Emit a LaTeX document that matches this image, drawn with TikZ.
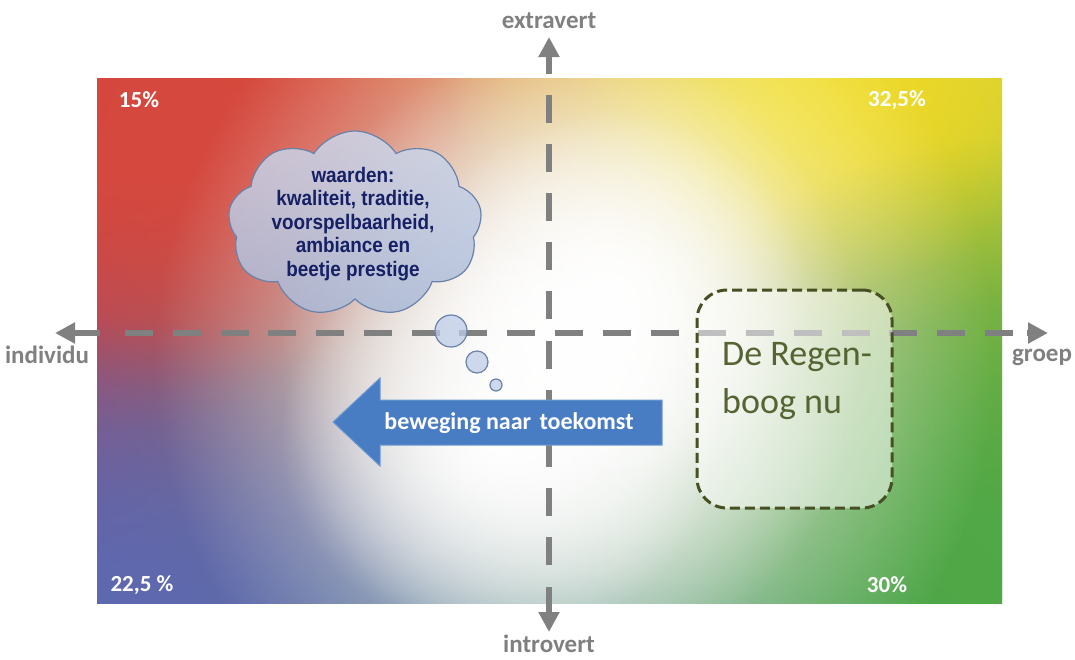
\documentclass[tikz,border=0pt]{standalone}
\usepackage{fontspec}
\setmainfont{Carlito}
\newfontfamily\cloudfont[FakeStretch=0.9]{Liberation Sans}
\usetikzlibrary{shapes.symbols,arrows.meta,fadings,shadings}
\definecolor{axisgray}{RGB}{128,128,128}
\definecolor{cUL}{RGB}{212,68,60}
\definecolor{cUR}{RGB}{205,205,55}
\definecolor{cLL}{RGB}{92,98,170}
\definecolor{cLR}{RGB}{72,165,72}
\definecolor{gRed}{RGB}{214,72,62}
\definecolor{gYellow}{RGB}{240,220,38}
\definecolor{gGreen}{RGB}{80,168,70}
\definecolor{gBlue}{RGB}{95,105,175}
\definecolor{cloudtop}{RGB}{205,215,235}
\definecolor{cloudbot}{RGB}{170,185,215}
\definecolor{cloudborder}{RGB}{105,130,170}
\definecolor{cloudtext}{RGB}{22,32,100}
\definecolor{bubblefill}{RGB}{190,205,232}
\definecolor{arrowblue}{RGB}{72,125,195}
\definecolor{arrowborder}{RGB}{110,155,210}
\definecolor{boxborder}{RGB}{70,80,35}
\definecolor{regentext}{RGB}{85,100,50}
\tikzfading[name=glow, inner color=transparent!0, outer color=transparent!100]
\tikzset{
  axisline/.style={line width=6pt, draw=axisgray},
  axishead/.style={axisline, -{Triangle[length=20pt,width=20pt]}},
  axislabel/.style={text=axisgray, font=\bfseries\fontsize{25}{30}\selectfont, inner sep=0},
  pctlabel/.style={text=white, font=\bfseries\fontsize{23}{28}\selectfont, inner sep=0},
  bubble/.style={circle, draw=cloudborder, line width=1.2pt, fill=bubblefill, fill opacity=0.75, inner sep=0},
  glowfill/.style={fill=#1, path fading=glow},
}
\begin{document}
\begin{tikzpicture}[x=1pt,y=-1pt]
\useasboundingbox (0,0) rectangle (1075,659);
\coordinate (bgNW) at (97,78);
\coordinate (bgSE) at (1002,603);
% background
\begin{scope}
\clip (bgNW) rectangle (bgSE);
\shade[upper left=cUL, upper right=cUR, lower left=cLL, lower right=cLR] (bgNW) rectangle (bgSE);
\path[glowfill=gRed] (100,90) ellipse [x radius=400, y radius=340];
\path[glowfill=gRed] (170,130) ellipse [x radius=300, y radius=260];
\path[glowfill=gYellow] (790,100) ellipse [x radius=340, y radius=250];
\path[glowfill=gYellow] (820,110) ellipse [x radius=240, y radius=180];
\path[glowfill=gGreen] (1000,560) ellipse [x radius=400, y radius=420];
\path[glowfill=gBlue] (120,600) ellipse [x radius=400, y radius=280];
\path[glowfill=white] (575,360) ellipse [x radius=420, y radius=450];
\path[glowfill=white] (570,355) ellipse [x radius=290, y radius=320];
\path[glowfill=white] (500,440) ellipse [x radius=220, y radius=200];
\path[glowfill=white] (610,300) ellipse [x radius=200, y radius=190];
\end{scope}
% axes
\coordinate (vTop) at (549,95);
\coordinate (vBot) at (549,565);
\coordinate (hLeft) at (125,333);
\coordinate (hRight) at (1013,333);
\coordinate (upStart) at (549,74);
\coordinate (upTip) at (549,37);
\coordinate (downStart) at (549,587);
\coordinate (downTip) at (549,632);
\coordinate (leftStart) at (100,333);
\coordinate (leftTip) at (55,333);
\coordinate (rightStart) at (1027,333);
\coordinate (rightTip) at (1048,333);
\draw[axisline, dash pattern=on 28pt off 21.1pt] (vTop) -- (vBot);
\draw[axisline, dash pattern=on 28pt off 19.78pt] (hLeft) -- (hRight);
\draw[axishead] (upStart) -- (upTip);
\draw[axishead] (downStart) -- (downTip);
\draw[axishead] (leftStart) -- (leftTip);
\draw[axishead] (rightStart) -- (rightTip);
% axis labels
\node[axislabel] (extra) at (549,21) {extravert};
\node[axislabel] (intro) at (549,644) {introvert};
\node[axislabel] (indiv) at (47,355) {individu};
\node[axislabel] (groep) at (1042,357) {groep};
% percentages
\node[pctlabel] (p15) at (139,100) {15\%};
\node[pctlabel] (p325) at (897,100) {32,5\%};
\node[pctlabel] (p225) at (142,585) {22,5 \%};
\node[pctlabel] (p30) at (887,585) {30\%};
% thought cloud
\node[cloud, cloud puffs=9, cloud puff arc=115, cloud ignores aspect,
      minimum width=254pt, minimum height=186pt, inner sep=0,
      draw=cloudborder, line width=1.2pt, top color=cloudtop, bottom color=cloudbot,
      fill opacity=0.85] (cloud) at (355,224) {};
\node[font=\cloudfont\bfseries\fontsize{21}{23.5}\selectfont, text=cloudtext, align=center, inner sep=0]
  (values) at (353,224) {waarden:\\kwaliteit, traditie,\\voorspelbaarheid,\\ambiance en\\beetje prestige};
\node[bubble, minimum size=32pt] (b1) at (451,331) {};
\node[bubble, minimum size=22pt] (b2) at (477,362) {};
\node[bubble, minimum size=12pt] (b3) at (496,385) {};
% Regenboog box
\node[draw=boxborder, line width=3pt, dash pattern=on 10pt off 5pt, rounded corners=30pt,
      fill=white, fill opacity=0.5, minimum width=195pt, minimum height=218pt, inner sep=0]
  (regenbox) at (794.5,399) {};
\node[anchor=base west, font=\fontsize{36}{48}\selectfont, text=regentext, align=left, inner sep=0]
  (regentxt) at (722,413) {De Regen-\\boog nu};
% movement arrow
\fill[arrowblue, draw=arrowborder, line width=1pt] (662,400) -- (380,400) -- (380,378) -- (333,422)
  -- (380,466) -- (380,445) -- (662,445) -- cycle;
\node[text=white, font=\bfseries\fontsize{24}{28}\selectfont, inner sep=0] (move) at (509,423)
  {beweging naar\hspace{0.35em}toekomst};
\end{tikzpicture}
\end{document}
